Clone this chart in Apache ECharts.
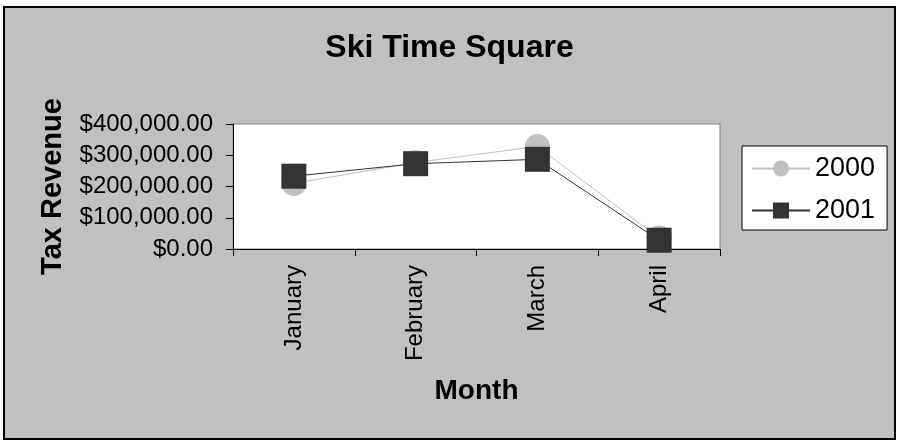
<!DOCTYPE html>
<html>
<head>
<meta charset="utf-8">
<script src="https://cdn.jsdelivr.net/npm/echarts@6/dist/echarts.min.js"></script>
<style>
  html, body { margin: 0; padding: 0; background: #fff; }
  #chart { width: 899px; height: 444px; }
</style>
</head>
<body>
<div id="chart"></div>
<script>
// data
const months = ["January", "February", "March", "April"];
const revenue2000 = [210000, 277000, 328000, 35000];
const revenue2001 = [233000, 273000, 287000, 28000];
const yTicks = { min: 0, max: 400000, interval: 100000 };

const font = "Liberation Sans, Arial, sans-serif";

function money(v) {
  const parts = v.toFixed(2).split(".");
  parts[0] = parts[0].replace(/\B(?=(\d{3})+(?!\d))/g, ",");
  return "$" + parts.join(".");
}

const chart = echarts.init(document.getElementById("chart"));
chart.setOption({
  backgroundColor: "#fff",
  animation: false,
  textStyle: { fontFamily: font },
  graphic: [
    {
      type: "rect",
      z: -10,
      shape: { x: 4, y: 7, width: 891, height: 432 },
      style: { fill: "#c0c0c0", stroke: "#000", lineWidth: 2 },
    },
  ],
  title: {
    text: "Ski Time Square",
    left: "center",
    top: 27,
    textStyle: { fontFamily: font, fontSize: 32, fontWeight: "bold", color: "#000" },
  },
  legend: {
    orient: "vertical",
    left: 742,
    top: 146,
    padding: [9, 12, 6, 9],
    itemGap: 15,
    itemWidth: 58,
    itemHeight: 20,
    backgroundColor: "#fff",
    borderColor: "#000",
    borderWidth: 1,
    borderRadius: 0,
    textStyle: { fontFamily: font, fontSize: 27, color: "#000", lineHeight: 25 },
    data: ["2000", "2001"],
  },
  grid: {
    left: 233,
    right: 179,
    top: 124,
    bottom: 195,
    show: true,
    backgroundColor: "#fff",
    borderColor: "#808080",
    borderWidth: 1,
  },
  xAxis: {
    type: "category",
    data: months,
    boundaryGap: true,
    name: "Month",
    nameLocation: "middle",
    nameGap: 128,
    nameTextStyle: { fontFamily: font, fontSize: 28, fontWeight: "bold", color: "#000" },
    axisLine: { lineStyle: { color: "#000", width: 1 } },
    axisTick: { show: true, length: 7, lineStyle: { color: "#000" } },
    axisLabel: {
      rotate: 90,
      margin: 16,
      fontFamily: font,
      fontSize: 24,
      color: "#000",
    },
    splitLine: { show: false },
  },
  yAxis: {
    type: "value",
    min: yTicks.min,
    max: yTicks.max,
    interval: yTicks.interval,
    name: "Tax Revenue",
    nameLocation: "middle",
    nameGap: 166,
    nameTextStyle: { fontFamily: font, fontSize: 29, fontWeight: "bold", color: "#000" },
    axisLine: { show: true, lineStyle: { color: "#000", width: 1 } },
    axisTick: { show: true, length: 7, lineStyle: { color: "#000" } },
    axisLabel: {
      margin: 20,
      fontFamily: font,
      fontSize: 24,
      color: "#000",
      formatter: money,
    },
    splitLine: { show: false },
  },
  series: [
    {
      name: "2000",
      type: "line",
      data: revenue2000,
      symbol: "circle",
      symbolSize: 25,
      color: "#c0c0c0",
      lineStyle: { color: "#c0c0c0", width: 1 },
      itemStyle: { color: "#c0c0c0" },
    },
    {
      name: "2001",
      type: "line",
      data: revenue2001,
      symbol: "rect",
      symbolSize: 25,
      color: "#333333",
      lineStyle: { color: "#333333", width: 1 },
      itemStyle: { color: "#333333" },
    },
  ],
});
</script>
</body>
</html>
